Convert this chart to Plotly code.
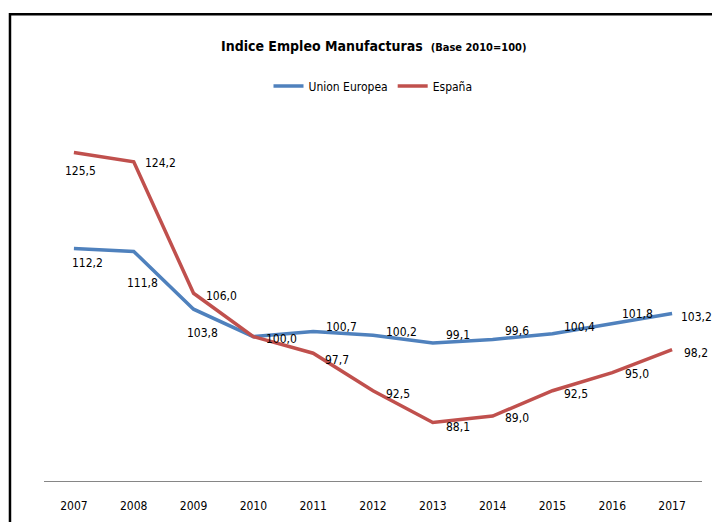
import plotly.graph_objects as go

years = ["2007", "2008", "2009", "2010", "2011", "2012", "2013", "2014", "2015", "2016", "2017"]
union_europea = [112.2, 111.8, 103.8, 100.0, 100.7, 100.2, 99.1, 99.6, 100.4, 101.8, 103.2]
espana = [125.5, 124.2, 106.0, 100.0, 97.7, 92.5, 88.1, 89.0, 92.5, 95.0, 98.2]

# label offsets in pixels (dx right, dy down)
eu_dx = [14, 9, 9, 28, 28, 28, 25, 24, 27, 25, 24]
eu_dy = [14, 32, 24, 2, -5, -3, -8, -8, -7, -10, 3]
es_dx = [7, 27, 28, 28, 24, 25, 25, 24, 24, 25, 24]
es_dy = [19, 1, 3, 2, 7, 3, 4, 2, 3, 1, 3]

FONT = "Liberation Sans Narrow, DejaVu Sans Condensed, Arial Narrow, Roboto, sans-serif"
BLUE = "#4F81BD"
RED = "#C0504D"

fig = go.Figure()
fig.add_trace(go.Scatter(x=years, y=union_europea, mode="lines", name="Union Europea",
                         line=dict(color=BLUE, width=3.5)))
fig.add_trace(go.Scatter(x=years, y=espana, mode="lines", name="España",
                         line=dict(color=RED, width=3.5)))

def fmt(v):
    return f"{v:.1f}".replace(".", ",")

annotations = []
drawn = set()
for series, dxs, dys in [(union_europea, eu_dx, eu_dy), (espana, es_dx, es_dy)]:
    for i, (v, dx, dy) in enumerate(zip(series, dxs, dys)):
        key = (i, v, dx, dy)
        if key in drawn:
            continue  # identical label at identical spot (2010 = 100,0 for both)
        drawn.add(key)
        annotations.append(dict(x=i, y=v, xref="x", yref="y", text=fmt(v), showarrow=False,
                                xanchor="center", yanchor="middle", xshift=dx, yshift=-dy,
                                font=dict(family=FONT, size=12, color="#000000")))

annotations.append(dict(
    x=0.5, y=1.205, xref="paper", yref="paper", showarrow=False, xanchor="center", yanchor="middle",
    text="<b>Indice Empleo Manufacturas</b>  <b><span style='font-size:11px'>(Base 2010=100)</span></b>",
    font=dict(family=FONT, size=14, color="#000000")))

fig.update_layout(
    width=712, height=522,
    margin=dict(l=44, r=10, t=120, b=41),
    paper_bgcolor="white", plot_bgcolor="white",
    showlegend=True,
    legend=dict(orientation="h", x=0.5, xanchor="center", y=1.094, yanchor="middle",
                font=dict(family=FONT, size=12, color="#000000"), itemwidth=30,
                bgcolor="rgba(0,0,0,0)"),
    xaxis=dict(type="category", range=[-0.5, 10.5], showline=True, linecolor="#868686", linewidth=1,
               showgrid=False, zeroline=False, ticks="", ticklabelstandoff=14,
               tickfont=dict(family=FONT, size=12, color="#000000"), fixedrange=True),
    yaxis=dict(range=[80, 130], visible=False, showgrid=False, zeroline=False, fixedrange=True),
    annotations=annotations,
    shapes=[dict(type="rect", xref="paper", yref="paper", x0=-0.0517, x1=1.3, y0=-0.5, y1=1.2928,
                 line=dict(color="black", width=2.5), fillcolor="rgba(0,0,0,0)", layer="above")],
)

fig.write_html("out.html",
               config={"displayModeBar": False},
               post_script="document.body.style.margin='0px';document.body.style.overflow='hidden';")
